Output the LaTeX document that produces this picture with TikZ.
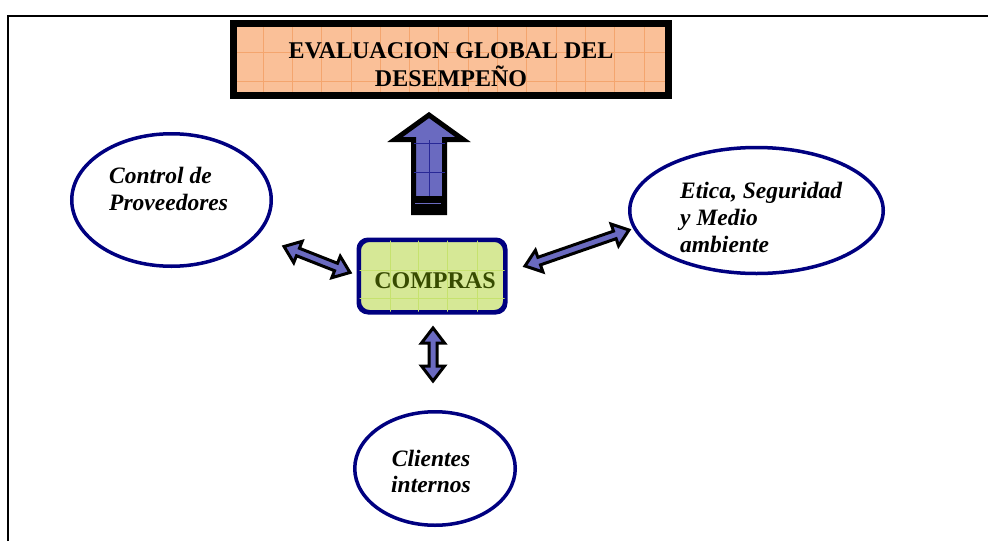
\documentclass[tikz,border=0pt]{standalone}
\usepackage{fontspec}
\setmainfont{Liberation Serif}
\usetikzlibrary{calc,shapes.geometric}
\definecolor{navy}{RGB}{0,0,128}
\definecolor{peach}{RGB}{250,192,152}
\definecolor{peachgrid}{RGB}{244,165,110}
\definecolor{limefill}{RGB}{214,232,150}
\definecolor{limegrid}{RGB}{198,226,110}
\definecolor{olivetext}{RGB}{55,75,0}
\definecolor{arrowblue}{RGB}{106,106,192}
\definecolor{arrowgrid}{RGB}{40,40,150}
\tikzset{
  frame/.style={line width=2pt, black},
  titlebox/.style={fill=peach, draw=none, minimum width=435pt, minimum height=72pt, inner sep=0pt},
  titletext/.style={font=\fontsize{24}{25}\selectfont\bfseries, inner sep=0pt},
  comprasbox/.style={draw=navy, line width=3pt, fill=limefill, rounded corners=10pt, minimum width=145pt, minimum height=71pt, inner sep=0pt},
  comprastext/.style={font=\fontsize{24}{26}\selectfont\bfseries, text=olivetext, inner sep=0pt},
  oval/.style={ellipse, draw=navy, line width=3.5pt, fill=white, inner sep=0pt},
  ovaltext/.style={font=\fontsize{23.5}{27}\selectfont\bfseries\itshape, inner sep=0pt},
  dblarr/.style={draw=black, fill=arrowblue, line width=3pt, line join=miter},
  bigarr/.style={draw=black, fill=arrowblue, line width=5pt, line join=miter},
  gridline/.style={line width=0.8pt}
}
\newcommand\DArrow[2]{%
  \filldraw[dblarr] (#1)
   -- ($(#1)!15pt!(#2)!11.5pt!90:(#2)$)
   -- ($(#1)!15pt!(#2)!4pt!90:(#2)$)
   -- ($(#2)!15pt!(#1)!4pt!-90:(#1)$)
   -- ($(#2)!15pt!(#1)!11.5pt!-90:(#1)$)
   -- (#2)
   -- ($(#2)!15pt!(#1)!11.5pt!90:(#1)$)
   -- ($(#2)!15pt!(#1)!4pt!90:(#1)$)
   -- ($(#1)!15pt!(#2)!4pt!-90:(#2)$)
   -- ($(#1)!15pt!(#2)!11.5pt!-90:(#2)$)
   -- cycle;}
\begin{document}
\begin{tikzpicture}[x=1pt,y=-1pt]
\useasboundingbox (0,0) rectangle (988,541);
\fill[white] (0,0) rectangle (988,541);
% frame
\draw[frame] (8,541) -- (8,16) -- (988,16);

% title box
\node[titlebox] (title) at (451,59.5) {};
\begin{scope}
  \clip (title.south west) rectangle (title.north east);
  \foreach \gx in {263,292.3,321.6,350.9,380.2,409.5,438.8,468.1,497.4,526.7,556,585.3,614.6,643.9}
    \draw[gridline, peachgrid] (\gx,20) -- (\gx,99);
  \foreach \gy in {52,81}
    \draw[gridline, peachgrid] (230,\gy) -- (672,\gy);
\end{scope}
\draw[line width=7pt] (title.south west) rectangle (title.north east);
\node[titletext, anchor=base] (titletxt) at (451,58)
  {\begin{tabular}[t]{@{}c@{}}EVALUACION GLOBAL DEL\\DESEMPEÑO\end{tabular}};

% compras box
\node[comprasbox] (compras) at (432,276) {};
\begin{scope}
  \clip[rounded corners=10pt] (compras.south west) rectangle (compras.north east);
  \foreach \gx in {390,418,447,477}
    \draw[gridline, limegrid] (\gx,240) -- (\gx,312);
  \foreach \gy in {270,298}
    \draw[gridline, limegrid] (359,\gy) -- (505,\gy);
\end{scope}
\draw[navy, line width=3pt, rounded corners=10pt] (compras.south west) rectangle (compras.north east);
\node[comprastext, anchor=base] (comprastxt) at (435,288) {COMPRAS};

% ovals
\node[oval, minimum width=199.5pt, minimum height=132.5pt] (prov) at (171.5,200) {};
\node[ovaltext, anchor=base west] (provtxt) at (109,183)
  {\begin{tabular}[t]{@{}l@{}}Control de\\Proveedores\end{tabular}};
\node[oval, minimum width=253.5pt, minimum height=126pt] (etica) at (756.5,210.5) {};
\node[ovaltext, anchor=base west] (eticatxt) at (680,198)
  {\begin{tabular}[t]{@{}l@{}}Etica, Seguridad\\y Medio\\ambiente\end{tabular}};
\node[oval, minimum width=160.5pt, minimum height=113.5pt] (clientes) at (435,468.5) {};
\node[ovaltext, font=\fontsize{23.5}{26}\selectfont\bfseries\itshape, anchor=base] (clientestxt) at (431,466)
  {\begin{tabular}[t]{@{}c@{}}Clientes\\internos\end{tabular}};

% big up arrow
\coordinate (ub) at (429,212.5);
\coordinate (ut) at (429,115);
\filldraw[bigarr] ($(ub)+(-15.5,0)$) -- ($(ub)+(-15.5,-73)$) -- ($(ub)+(-34,-73)$) -- (ut)
  -- ($(ub)+(34,-73)$) -- ($(ub)+(15.5,-73)$) -- ($(ub)+(15.5,0)$) -- cycle;
\draw[gridline, arrowgrid] (429,140) -- (429,196);
\draw[gridline, arrowgrid] (413.5,143) -- (444.5,143);
\draw[gridline, arrowgrid] (413.5,172) -- (444.5,172);
\fill[black] (413.5,196) rectangle (444.5,212.5);
\draw[arrowblue, line width=1.3pt] (415,203.5) -- (441,203.5);

% double arrows
\coordinate (la) at (284,246.5);
\coordinate (lb) at (350,272.5);
\DArrow{la}{lb}
\coordinate (ra) at (525,266);
\coordinate (rb) at (629,230);
\DArrow{ra}{rb}
\coordinate (da) at (433,328);
\coordinate (db) at (433,381);
\DArrow{da}{db}
\end{tikzpicture}
\end{document}
